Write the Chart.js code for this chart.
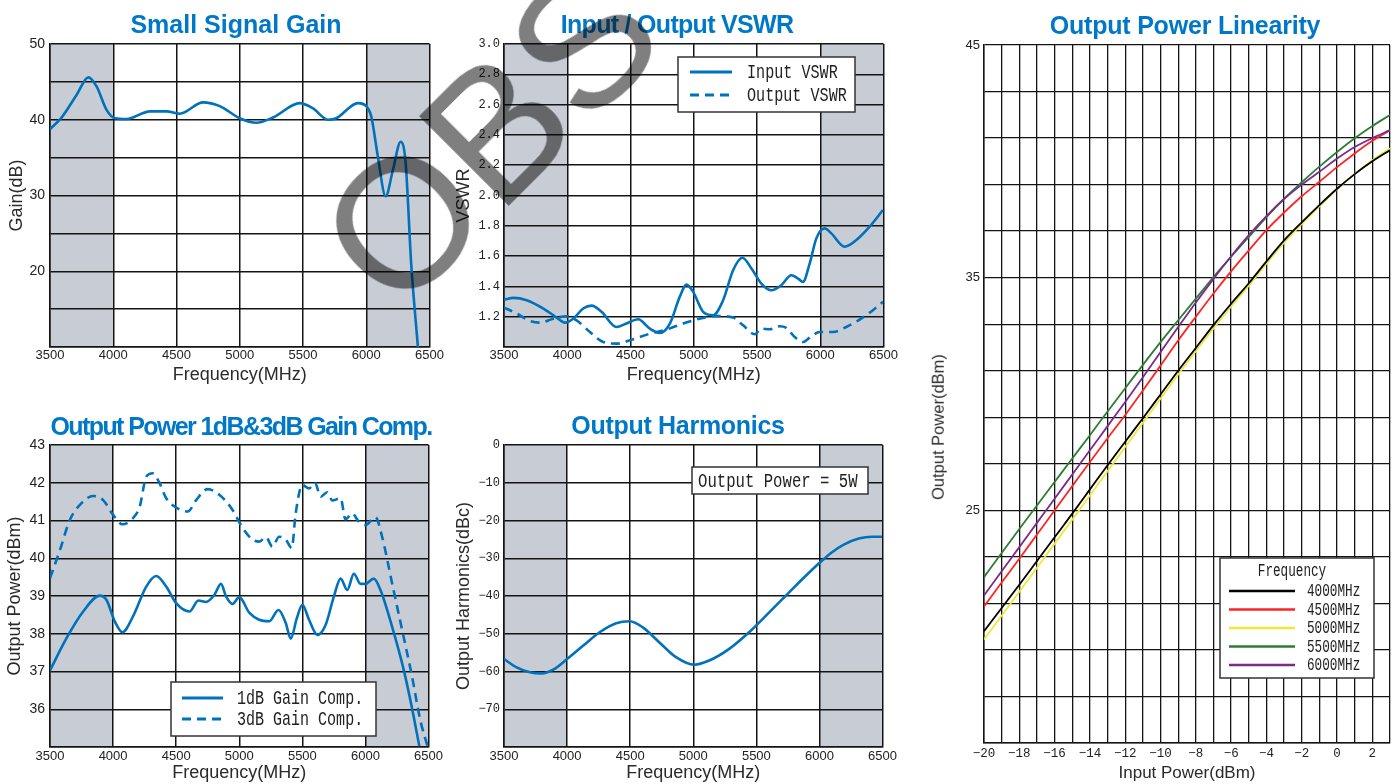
<!DOCTYPE html>
<html lang="en">
<head>
<meta charset="utf-8">
<title>Amplifier characteristics</title>
<script src="https://cdn.jsdelivr.net/npm/chart.js@4.4.1/dist/chart.umd.min.js"></script>
<style>
  html, body { margin: 0; padding: 0; background: #fff; }
  body { position: relative; width: 1399px; height: 784px; overflow: hidden; }
  canvas { position: absolute; }
  .title { position: absolute; transform: translateX(-50%); white-space: nowrap; color: #0078c8;
           font: bold 25px/1 'Liberation Sans', Arial, sans-serif; }
  .ytitle { position: absolute; transform: translate(-50%, -50%) rotate(-90deg); white-space: nowrap;
            color: #2a2a2a; font: 16.5px/1 'Liberation Sans', Arial, sans-serif; }
  #watermark { position: absolute; left: 489px; top: 135px; transform: translate(-50%, -50%) rotate(-45deg);
               font: 184px/1 'Liberation Sans', Arial, sans-serif; color: rgba(0, 0, 0, 0.5);
               white-space: nowrap; pointer-events: none; }
</style>
</head>
<body>
<canvas id="gainChart" width="445" height="392" style="left:0;top:0"></canvas>
<canvas id="vswrChart" width="449" height="392" style="left:450px;top:0"></canvas>
<canvas id="compChart" width="445" height="384" style="left:0;top:400px"></canvas>
<canvas id="harmChart" width="449" height="384" style="left:450px;top:400px"></canvas>
<canvas id="linChart" width="474" height="784" style="left:925px;top:0"></canvas>

<div class="title" style="left:236px;top:12px">Small Signal Gain</div>
<div class="title" style="left:677px;top:12px;letter-spacing:-0.7px">Input / Output VSWR</div>
<div class="title" style="left:241px;top:414px;letter-spacing:-1.6px">Output Power 1dB&amp;3dB Gain Comp.</div>
<div class="title" style="left:678px;top:413px;letter-spacing:-0.3px">Output Harmonics</div>
<div class="title" style="left:1185px;top:13px;letter-spacing:-0.2px">Output Power Linearity</div>
<div class="ytitle" style="left:938px;top:427px">Output Power(dBm)</div>
<div id="watermark">OBS</div>

<script>
const FONT_SANS = "'Liberation Sans', Arial, sans-serif";
const FONT_NARROW = "'Liberation Sans Narrow', 'Liberation Sans', Arial, sans-serif";
const FONT_MONO = "'Liberation Mono', 'DejaVu Sans Mono', monospace";
const INK = "#222";
const GRID = "#141414";
const BLUE = "#0072bc";
const BAND = "#c8ccd4";

// ---- data ----
const freqTicks = [3500, 4000, 4500, 5000, 5500, 6000, 6500];
const bandRanges = [[3500, 4000], [6000, 6500]];

const gainFreq = [3500, 3592, 3711, 3803, 3868, 3947, 4013, 4105, 4290, 4421, 4526, 4710, 4842, 5000, 5132,
  5263, 5474, 5579, 5698, 5763, 5934, 6000, 6040, 6092, 6153, 6211, 6272, 6311, 6355, 6408];
const gainDb = [38.75, 40.3, 43.3, 45.6, 44.4, 41.3, 40.2, 40.1, 41.1, 41.1, 40.8, 42.3, 41.8, 40.2, 39.6,
  40.3, 42.2, 41.5, 40.0, 40.2, 42.2, 41.8, 40.4, 35.1, 29.9, 33.4, 37.1, 34.3, 21.0, 10.0];
const gainTicks = [20, 30, 40, 50];

const vswrInFreq = [3500, 3574, 3679, 3811, 3916, 3982, 4047, 4126, 4192, 4271, 4389, 4468, 4561, 4653, 4732,
  4811, 4889, 4942, 4995, 5074, 5153, 5232, 5311, 5385, 5456, 5534, 5613, 5692, 5771, 5824, 5863, 5916, 5969,
  6035, 6087, 6193, 6285, 6390, 6495];
const vswrIn = [1.313, 1.324, 1.309, 1.254, 1.194, 1.161, 1.187, 1.254, 1.273, 1.232, 1.132, 1.155, 1.183, 1.121,
  1.093, 1.155, 1.331, 1.412, 1.364, 1.232, 1.210, 1.309, 1.507, 1.589, 1.518, 1.419, 1.375, 1.408, 1.474, 1.452,
  1.430, 1.551, 1.717, 1.783, 1.750, 1.662, 1.706, 1.794, 1.904];
const vswrOutFreq = [3500, 3600, 3705, 3784, 3890, 3995, 4074, 4179, 4284, 4389, 4521, 4653, 4784, 4916, 5047,
  5179, 5311, 5390, 5482, 5534, 5600, 5679, 5732, 5798, 5863, 5929, 5995, 6100, 6206, 6311, 6416, 6495];
const vswrOut = [1.260, 1.221, 1.172, 1.161, 1.187, 1.203, 1.176, 1.099, 1.033, 1.022, 1.051, 1.088, 1.115, 1.155,
  1.187, 1.205, 1.194, 1.143, 1.084, 1.121, 1.117, 1.137, 1.126, 1.066, 1.033, 1.071, 1.099, 1.099, 1.132, 1.181,
  1.243, 1.298];
const vswrTicks = [1.2, 1.4, 1.6, 1.8, 2.0, 2.2, 2.4, 2.6, 2.8, 3.0];

const comp1Freq = [3500, 3632, 3763, 3895, 3947, 4013, 4074, 4158, 4263, 4342, 4421, 4500, 4605, 4676, 4737,
  4803, 4855, 4895, 4947, 5000, 5079, 5158, 5237, 5311, 5369, 5408, 5456, 5500, 5553, 5619, 5685, 5750, 5803,
  5856, 5908, 5961, 6000, 6066, 6119, 6211, 6303, 6369, 6427];
const comp1 = [37.03, 37.89, 38.59, 39.01, 38.90, 38.33, 38.04, 38.46, 39.25, 39.53, 39.25, 38.81, 38.59, 38.88,
  38.84, 39.03, 39.32, 38.99, 38.79, 38.97, 38.56, 38.37, 38.33, 38.63, 38.28, 37.87, 38.41, 38.77, 38.37, 37.97,
  38.24, 38.99, 39.46, 39.16, 39.59, 39.32, 39.32, 39.46, 39.16, 38.19, 37.05, 36.03, 35.02];
const comp3Freq = [3500, 3579, 3658, 3750, 3842, 3921, 4000, 4074, 4145, 4211, 4263, 4316, 4368, 4421, 4513,
  4592, 4658, 4750, 4842, 4947, 5013, 5092, 5158, 5211, 5263, 5316, 5369, 5416, 5447, 5500, 5553, 5600, 5645,
  5698, 5737, 5803, 5842, 5895, 5947, 6000, 6079, 6132, 6211, 6290, 6369, 6434, 6492];
const comp3 = [39.47, 40.22, 41.02, 41.46, 41.65, 41.54, 41.15, 40.90, 41.02, 41.37, 42.16, 42.25, 41.99, 41.59,
  41.32, 41.24, 41.54, 41.83, 41.68, 41.28, 40.88, 40.53, 40.44, 40.56, 40.31, 40.57, 40.49, 40.27, 41.19, 41.94,
  41.85, 42.00, 41.63, 41.75, 41.53, 41.59, 41.03, 41.19, 40.97, 40.88, 41.09, 40.57, 39.34, 38.11, 36.87, 35.72,
  35.02];
const compTicks = [36, 37, 38, 39, 40, 41, 42, 43];

const harmFreq = [3500, 3600, 3705, 3797, 3890, 4000, 4126, 4258, 4389, 4495, 4600, 4732, 4863, 5008, 5126,
  5285, 5442, 5600, 5758, 5890, 6008, 6100, 6193, 6311, 6416, 6495];
const harm = [-56.7, -58.9, -60.2, -60.5, -59.5, -56.7, -53.2, -49.6, -47.2, -46.7, -48.3, -52.3, -56.2, -58.2,
  -57.1, -54.0, -49.6, -44.4, -39.1, -34.7, -31.0, -28.4, -26.4, -24.8, -24.3, -24.3];
const harmTicks = [0, -10, -20, -30, -40, -50, -60, -70];

const linInput = [-20, -19, -18, -17, -16, -15, -14, -13, -12, -11, -10, -9, -8, -7, -6, -5, -4, -3, -2, -1,
  0, 1, 2, 3];
const lin4000 = [19.80, 20.80, 21.80, 22.82, 23.84, 24.86, 25.90, 26.94, 27.95, 28.96, 29.98, 31.00, 31.98,
  32.96, 33.88, 34.76, 35.70, 36.60, 37.38, 38.12, 38.82, 39.45, 40.00, 40.48];
const lin4500 = [20.87, 21.90, 22.92, 23.96, 25.00, 26.04, 27.08, 28.10, 29.10, 30.15, 31.22, 32.30, 33.32,
  34.32, 35.27, 36.17, 37.04, 37.80, 38.50, 39.12, 39.75, 40.34, 40.88, 41.34];
const lin5000 = [19.45, 20.47, 21.50, 22.53, 23.57, 24.60, 25.64, 26.68, 27.72, 28.76, 29.80, 30.84, 31.84,
  32.82, 33.76, 34.66, 35.60, 36.50, 37.30, 38.06, 38.80, 39.46, 40.05, 40.56];
const lin5500 = [22.13, 23.17, 24.20, 25.21, 26.22, 27.23, 28.23, 29.25, 30.25, 31.25, 32.23, 33.17, 34.10,
  35.03, 35.90, 36.75, 37.60, 38.40, 39.10, 39.77, 40.40, 40.99, 41.52, 41.99];
const lin6000 = [21.34, 22.38, 23.42, 24.46, 25.50, 26.54, 27.58, 28.62, 29.66, 30.72, 31.80, 32.88, 33.93,
  34.95, 35.92, 36.83, 37.65, 38.38, 39.00, 39.55, 40.12, 40.62, 41.00, 41.34];
const linXTicks = [-20, -18, -16, -14, -12, -10, -8, -6, -4, -2, 0, 2];
const linYTicks = [25, 35, 45];

// ---- helpers ----
const toPoints = (xs, ys) => xs.map((x, i) => ({ x, y: ys[i] }));
const minusFmt = (v) => (v < 0 ? "\u2212" + Math.abs(v) : String(v));
const labelOnly = (list, fmt) => (v) => {
  const r = Math.round(v * 100) / 100;
  return list.includes(r) ? fmt(r) : "";
};

function squeezed(ctx, text, x, y, size, sx, align) {
  ctx.save();
  ctx.translate(x, y);
  ctx.scale(sx, 1);
  ctx.font = size + "px " + FONT_MONO;
  ctx.textAlign = align;
  ctx.textBaseline = "middle";
  ctx.fillText(text, 0, 0);
  ctx.restore();
}

// grey out-of-band stripes behind the grid
const bandPlugin = {
  id: "bands",
  beforeDraw(chart, args, opts) {
    if (!opts || !opts.ranges) return;
    const { ctx, chartArea: a } = chart;
    const x = chart.scales.x;
    ctx.save();
    ctx.fillStyle = BAND;
    for (const r of opts.ranges) {
      const x0 = x.getPixelForValue(r[0]);
      const x1 = x.getPixelForValue(r[1]);
      ctx.fillRect(x0, a.top, x1 - x0, a.bottom - a.top);
    }
    ctx.restore();
  },
};

// framed legend / note placed inside the plot area
const boxLegend = {
  id: "boxLegend",
  afterDraw(chart, args, o) {
    if (!o || !o.w) return;
    const { ctx, chartArea: a } = chart;
    const bx = a.left + o.x;
    const by = a.top + o.y;
    ctx.save();
    ctx.fillStyle = "#fff";
    ctx.fillRect(bx, by, o.w, o.h);
    ctx.strokeStyle = "#333";
    ctx.lineWidth = 1.5;
    ctx.strokeRect(bx, by, o.w, o.h);
    ctx.fillStyle = INK;
    if (o.title) squeezed(ctx, o.title, bx + o.titleX, by + o.titleY, o.size, o.squeeze, "center");
    const entries = o.text ? [{ label: o.text }] : chart.data.datasets;
    entries.forEach((ds, i) => {
      const ry = by + o.firstRow + i * o.rowGap;
      if (ds.borderColor) {
        ctx.strokeStyle = ds.borderColor;
        ctx.lineWidth = o.lineWidth || ds.borderWidth;
        ctx.setLineDash(ds.borderDash || []);
        ctx.beginPath();
        ctx.moveTo(bx + o.lineFrom, ry);
        ctx.lineTo(bx + o.lineTo, ry);
        ctx.stroke();
        ctx.setLineDash([]);
      }
      ctx.fillStyle = INK;
      squeezed(ctx, ds.label, bx + o.textX, ry, o.size, o.squeeze, "left");
    });
    ctx.restore();
  },
};

Chart.register(bandPlugin, boxLegend);

const xFreq = (height, tickPad, titlePad) => ({
  type: "linear",
  min: 3500,
  max: 6500,
  afterFit: (s) => { s.height = height; },
  ticks: {
    stepSize: 500, autoSkip: false, maxRotation: 0, padding: tickPad, color: INK,
    font: { family: FONT_NARROW, size: 13 },
    callback: labelOnly(freqTicks, String),
  },
  grid: { color: GRID, lineWidth: 1.5, drawTicks: false },
  border: { color: GRID, width: 1.5 },
  title: {
    display: true, text: "Frequency(MHz)", color: "#2a2a2a",
    font: { family: FONT_SANS, size: 18 }, padding: { top: 0, bottom: titlePad },
  },
});

const yAxis = (c) => ({
  type: "linear",
  min: c.min,
  max: c.max,
  afterFit: (s) => { s.width = c.width; },
  ticks: {
    stepSize: c.step, autoSkip: false, padding: c.pad, color: INK,
    font: { family: c.font, size: c.size },
    callback: labelOnly(c.labels, c.fmt),
  },
  grid: { color: GRID, lineWidth: c.lw || 1.5, drawTicks: false },
  border: { color: GRID, width: 1.5 },
  title: c.title
    ? { display: true, text: c.title, color: "#2a2a2a", font: { family: FONT_SANS, size: 18 },
        padding: { top: c.titlePad, bottom: 0 } }
    : { display: false },
});

const lineDs = (label, pts, extra) => Object.assign({
  label, data: pts, borderColor: BLUE, borderWidth: 2.6, pointRadius: 0,
  cubicInterpolationMode: "monotone", fill: false,
}, extra || {});

const baseOptions = (pad, scales, plugins) => ({
  responsive: false,
  animation: false,
  events: [],
  layout: { padding: pad },
  scales,
  plugins: Object.assign({ legend: { display: false }, tooltip: { enabled: false }, bands: {} }, plugins),
});

// ---- Small Signal Gain ----
new Chart(document.getElementById("gainChart"), {
  type: "line",
  data: { datasets: [lineDs("Gain", toPoints(gainFreq, gainDb))] },
  options: baseOptions({ top: 44, right: 15, left: 0, bottom: 0 }, {
    x: xFreq(45, 1, 6.2),
    y: yAxis({ min: 10, max: 50, step: 5, width: 50, pad: 5, font: FONT_SANS, size: 14,
      labels: gainTicks, fmt: String, title: "Gain(dB)", titlePad: 6.7 }),
  }, { bands: { ranges: bandRanges } }),
});

// ---- Input / Output VSWR ----
new Chart(document.getElementById("vswrChart"), {
  type: "line",
  data: {
    datasets: [
      lineDs("Input VSWR", toPoints(vswrInFreq, vswrIn)),
      lineDs("Output VSWR", toPoints(vswrOutFreq, vswrOut), { borderDash: [9, 6] }),
    ],
  },
  options: baseOptions({ top: 44, right: 15, left: 0, bottom: 0 }, {
    x: xFreq(45, 1, 6.2),
    y: yAxis({ min: 1, max: 3, step: 0.2, width: 54, pad: 4, font: FONT_MONO, size: 12,
      labels: vswrTicks, fmt: (v) => v.toFixed(1), title: "VSWR", titlePad: 3.7 }),
  }, {
    bands: { ranges: bandRanges },
    boxLegend: { x: 174, y: 13, w: 177, h: 55, firstRow: 15, rowGap: 23, lineFrom: 12, lineTo: 54,
      textX: 69, size: 21, squeeze: 0.72, lineWidth: 3 },
  }),
});

// ---- Output Power 1dB & 3dB Gain Comp. ----
new Chart(document.getElementById("compChart"), {
  type: "line",
  data: {
    datasets: [
      lineDs("1dB Gain Comp.", toPoints(comp1Freq, comp1)),
      lineDs("3dB Gain Comp.", toPoints(comp3Freq, comp3), { borderDash: [9, 6] }),
    ],
  },
  options: baseOptions({ top: 45, right: 15, left: 0, bottom: 0 }, {
    x: xFreq(37, 2, 0.2),
    y: yAxis({ min: 35, max: 43, step: 1, width: 50, pad: 5, font: FONT_SANS, size: 14,
      labels: compTicks, fmt: String, title: "Output Power(dBm)", titlePad: 4.2 }),
  }, {
    bands: { ranges: bandRanges },
    boxLegend: { x: 121, y: 237, w: 205, h: 54, firstRow: 16, rowGap: 21, lineFrom: 11, lineTo: 52,
      textX: 66, size: 21, squeeze: 0.715, lineWidth: 3 },
  }),
});

// ---- Output Harmonics ----
new Chart(document.getElementById("harmChart"), {
  type: "line",
  data: { datasets: [lineDs("Harmonics", toPoints(harmFreq, harm))] },
  options: baseOptions({ top: 45, right: 15, left: 0, bottom: 0 }, {
    x: xFreq(37, 2, 0.2),
    y: yAxis({ min: -80, max: 0, step: 10, width: 54, pad: 4, font: FONT_MONO, size: 12,
      labels: harmTicks, fmt: minusFmt, title: "Output Harmonics(dBc)", titlePad: 3.2 }),
  }, {
    bands: { ranges: bandRanges },
    boxLegend: { x: 188, y: 22, w: 176, h: 27, firstRow: 14, rowGap: 0, textX: 6, size: 21,
      squeeze: 0.745, text: "Output Power = 5W" },
  }),
});

// ---- Output Power Linearity ----
const linDs = (label, ys, color, order) => ({
  label, data: toPoints(linInput, ys), borderColor: color, borderWidth: 1.8, pointRadius: 0,
  cubicInterpolationMode: "monotone", fill: false, order,
});

new Chart(document.getElementById("linChart"), {
  type: "line",
  data: {
    datasets: [
      linDs("4000MHz", lin4000, "#000000", 1),
      linDs("4500MHz", lin4500, "#ff2424", 2),
      linDs("5000MHz", lin5000, "#ece83c", 3),
      linDs("5500MHz", lin5500, "#2e7d34", 4),
      linDs("6000MHz", lin6000, "#7d2a8c", 0),
    ],
  },
  options: baseOptions({ top: 45, right: 9, left: 0, bottom: 0 }, {
    x: {
      type: "linear", min: -20, max: 3,
      afterFit: (s) => { s.height = 41; },
      ticks: { stepSize: 1, autoSkip: false, maxRotation: 0, padding: 3, color: INK,
        font: { family: FONT_MONO, size: 12.5 }, callback: labelOnly(linXTicks, minusFmt) },
      grid: { color: GRID, lineWidth: 1.3, drawTicks: false },
      border: { color: GRID, width: 1.5 },
      title: { display: true, text: "Input Power(dBm)", color: "#2a2a2a",
        font: { family: FONT_SANS, size: 17 }, padding: { top: 0, bottom: 0.8 } },
    },
    y: yAxis({ min: 15, max: 45, step: 2, width: 59, pad: 4, font: FONT_SANS, size: 13,
      labels: linYTicks, fmt: String, lw: 1.3 }),
  }, {
    boxLegend: { x: 236, y: 513, w: 154, h: 120, title: "Frequency", titleX: 72, titleY: 13,
      firstRow: 33, rowGap: 18.5, lineFrom: 9, lineTo: 75, textX: 87, size: 19, squeeze: 0.667, lineWidth: 2.4 },
  }),
});
</script>
</body>
</html>
